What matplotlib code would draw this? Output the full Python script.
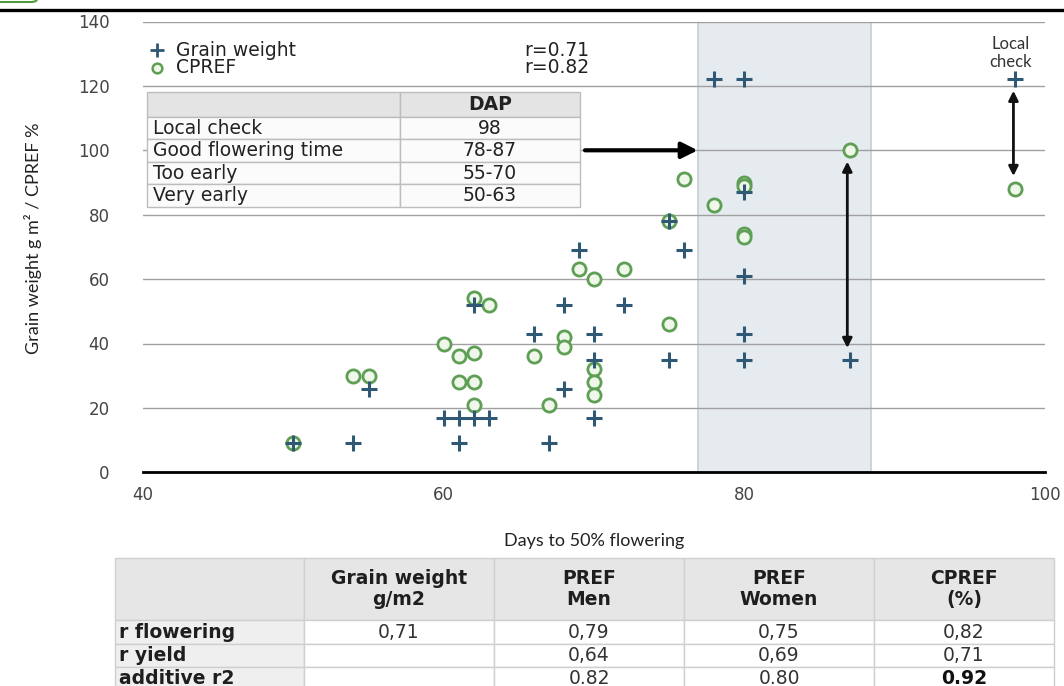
import matplotlib
matplotlib.use("Agg")
import matplotlib.pyplot as plt
from matplotlib.lines import Line2D
from matplotlib.patches import FancyBboxPatch

# grain weight (g m-2) against days to 50% flowering
gw_days = [50, 54, 61, 67, 60, 61, 62, 63, 70, 55, 68, 70, 75, 80, 87,
           66, 70, 80, 62, 68, 72, 80, 69, 76, 75, 80, 78, 80, 98]
gw_vals = [9, 9, 9, 9, 17, 17, 17, 17, 17, 26, 26, 35, 35, 35, 35,
           43, 43, 43, 52, 52, 52, 61, 69, 69, 78, 87, 122, 122, 122]

# CPREF (%) against days to 50% flowering
cpref_days = [50, 54, 55, 60, 61, 62, 61, 62, 62, 62, 63, 66, 67, 68, 68, 69,
              70, 72, 70, 70, 70, 75, 75, 76, 78, 80, 80, 80, 80, 87, 98]
cpref_vals = [9, 30, 30, 40, 36, 37, 28, 28, 21, 54, 52, 36, 21, 42, 39, 63,
              60, 63, 32, 28, 24, 46, 78, 91, 83, 90, 89, 74, 73, 100, 88]

series_names = ["Grain weight", "CPREF"]
series_r = ["r=0.71", "r=0.82"]

# inset table
dap_rows = ["Local check", "Good flowering time", "Too early", "Very early"]
dap_vals = ["98", "78-87", "55-70", "50-63"]

# table under the chart
corr_cols = ["", "Grain weight\ng/m2", "PREF\nMen", "PREF\nWomen", "CPREF\n(%)"]
corr_rows = ["r flowering", "r yield", "additive r2"]
corr_vals = [["0,71", "0,79", "0,75", "0,82"],
             ["", "0,64", "0,69", "0,71"],
             ["", "0.82", "0.80", "0.92"]]

# good flowering window (shaded) and annotation arrows
band = (76.9, 88.4)
arrow_main = ((69.4, 100), (76.9, 100))
arrow_gap1 = ((86.85, 96.5), (86.85, 38.6))
arrow_gap2 = ((97.9, 118.5), (97.9, 92))

PLUS_C = "#2e5873"
CIRC_C = "#5f9f55"
CIRC_F = "#eef7e9"

fig = plt.figure(figsize=(10.64, 6.86), dpi=100)
ax = fig.add_axes([143 / 1064, 1 - 472.3 / 686, 902 / 1064, 450.8 / 686])

ax.axvspan(*band, facecolor="#e6ebf0", edgecolor="#c8cdd3", lw=1.2, zorder=0.2)

ax.plot(cpref_days, cpref_vals, ls="none", marker="o", ms=9.5, mew=2,
        mec=CIRC_C, mfc=CIRC_F, zorder=4)
ax.plot(gw_days, gw_vals, ls="none", marker="+", ms=12, mew=2.2,
        color=PLUS_C, zorder=5)

ax.set_xlim(40, 100)
ax.set_ylim(0, 140)
ax.set_xticks([40, 60, 80, 100])
ax.set_yticks(range(0, 141, 20))
ax.set_axisbelow(True)
ax.grid(axis="y", color="#a0a0a0", lw=1)
for s in ["top", "right", "left"]:
    ax.spines[s].set_visible(False)
ax.spines["bottom"].set_linewidth(2)
ax.spines["bottom"].set_zorder(6)
ax.tick_params(length=0, labelsize=12, labelcolor="#444444")
ax.tick_params(axis="y", pad=24)
ax.tick_params(axis="x", pad=10)

ax.set_xlabel("Days to 50% flowering", family="Lato", fontsize=13, color="#222222")
ax.xaxis.set_label_coords(0.5, -0.135)
ax.set_ylabel("Grain weight g m² / CPREF %", family="Lato", fontsize=13,
              color="#222222")
ax.yaxis.set_label_coords(-0.112, 0.52)

# legend, drawn by hand
leg_y = [131.1, 125.6]
ax.plot([40.9], [leg_y[0]], ls="none", marker="+", ms=10, mew=2, color=PLUS_C,
        clip_on=False)
ax.plot([40.9], [leg_y[1]], ls="none", marker="o", ms=7, mew=1.8, mec=CIRC_C,
        mfc=CIRC_F, clip_on=False)
for name, r, y in zip(series_names, series_r, leg_y):
    ax.text(42.2, y, name, fontsize=13.5, va="center", color="#222222")
    ax.text(69.7, y, r, fontsize=13.5, va="center", ha="right", color="#222222")

# arrows
ax.annotate("", xy=arrow_main[1], xytext=arrow_main[0],
            arrowprops=dict(arrowstyle="-|>", lw=3, color="black",
                            mutation_scale=24, shrinkA=0, shrinkB=0), zorder=7)
for a in (arrow_gap1, arrow_gap2):
    ax.annotate("", xy=a[1], xytext=a[0],
                arrowprops=dict(arrowstyle="<|-|>", lw=2, color="#111111",
                                mutation_scale=14, shrinkA=0, shrinkB=0), zorder=7)

ax.text(97.7, 130.3, "Local\ncheck", family="Lato", fontsize=12, ha="center",
        va="center", color="#333333", linespacing=1.15)

# inset DAP table
tab = ax.table(cellText=[[r, v] for r, v in zip(dap_rows, dap_vals)],
               colLabels=["", "DAP"], colWidths=[0.584, 0.416],
               cellLoc="center", bbox=[0.0044, 0.5885, 0.480, 0.2551])
tab.set_zorder(3)
tab.auto_set_font_size(False)
tab.set_fontsize(13.5)
for (r, c), cell in tab.get_celld().items():
    cell.set_edgecolor("#bdbdbd")
    cell.set_linewidth(1)
    cell.get_text().set_color("#222222")
    if r == 0:
        cell.set_facecolor("#e4e4e4")
        cell.set_height(cell.get_height() * 1.1)
        cell.get_text().set_fontweight("bold")
    else:
        cell.set_facecolor("#fbfbfb")
    if c == 0:
        cell.get_text().set_horizontalalignment("left")
        cell.PAD = 0.025

# correlation table below the plot
tax = fig.add_axes([115 / 1064, -4 / 686, 939 / 1064, 132 / 686])
tax.axis("off")
cells = [[name] + vals for name, vals in zip(corr_rows, corr_vals)]
ctab = tax.table(cellText=cells, colLabels=corr_cols, cellLoc="center",
                 colWidths=[189, 190, 190, 190, 180], bbox=[0, 0, 1, 1])
ctab.auto_set_font_size(False)
ctab.set_fontsize(13.5)
for (r, c), cell in ctab.get_celld().items():
    cell.set_edgecolor("#cfcfcf")
    cell.set_linewidth(1)
    txt = cell.get_text()
    txt.set_color("#1e1e1e")
    if r == 0:
        cell.set_facecolor("#e6e6e6")
        cell.set_height(cell.get_height() * 62 / 23)
        txt.set_fontweight("bold")
        txt.set_linespacing(1.1)
    elif c == 0:
        cell.set_facecolor("#efefef")
        txt.set_fontweight("bold")
        txt.set_horizontalalignment("left")
        cell.PAD = 0.02
    else:
        cell.set_facecolor("white")
        txt.set_color("#333333")
        if txt.get_text() == "0.92":
            txt.set_fontweight("bold")
            txt.set_color("#111111")

# frame pieces at the top of the picture
fig.add_artist(Line2D([0, 1], [1 - 9.5 / 686, 1 - 9.5 / 686], color="black",
                      lw=2.4, transform=fig.transFigure))
fig.add_artist(FancyBboxPatch((-0.01, 1 - 2 / 686), 48 / 1064, 0.03,
                              boxstyle="round,pad=0,rounding_size=0.006",
                              facecolor="white", edgecolor="#4d9a3e", lw=1.5,
                              transform=fig.transFigure))

fig.savefig("out.png", dpi=100)
